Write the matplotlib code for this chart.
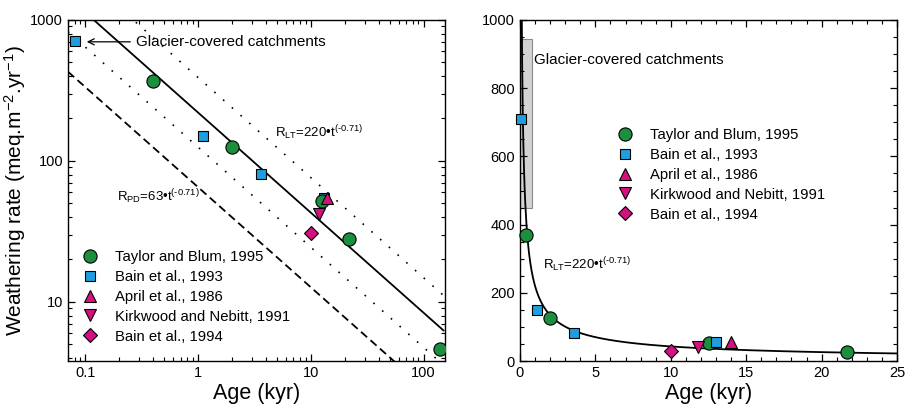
import matplotlib
matplotlib.use('Agg')
import matplotlib.pyplot as plt
import numpy as np
from matplotlib.ticker import MultipleLocator, LogLocator, FuncFormatter, NullFormatter

plt.rcParams['font.family'] = ['Liberation Sans', 'DejaVu Sans']
plt.rcParams['mathtext.fontset'] = 'custom'
plt.rcParams['mathtext.rm'] = 'Liberation Sans'
plt.rcParams['mathtext.it'] = 'Liberation Sans:italic'
plt.rcParams['mathtext.bf'] = 'Liberation Sans:bold'
plt.rcParams['mathtext.default'] = 'regular'

# data (age in kyr, rate in meq m-2 yr-1)
taylor_age = [0.4, 2.0, 12.5, 21.7, 140.0]
taylor_rate = [370, 125, 52, 28, 4.6]
bain93_age = [0.08, 1.1, 3.6, 13.0]
bain93_rate = [710, 150, 81, 55]
april_age = [14.0]
april_rate = [55]
kirk_age = [11.8]
kirk_rate = [42]
bain94_age = [10.0]
bain94_rate = [31]

# power law fits R = a * t^b
exponent = -0.71
lt_coef = 220
upper_coef = 390
lower_coef = 125
pd_coef = 65

# glacier-covered range (right panel box)
glacier_age = [0.0, 0.8]
glacier_rate = [450, 945]

green = '#1c8f3e'
blue = '#1e9ee0'
magenta = '#d5107f'

series = [
    ('Taylor and Blum, 1995', taylor_age, taylor_rate, 'o', green, 9.5),
    ('Bain et al., 1993', bain93_age, bain93_rate, 's', blue, 7.5),
    ('April et al., 1986', april_age, april_rate, '^', magenta, 8.5),
    ('Kirkwood and Nebitt, 1991', kirk_age, kirk_rate, 'v', magenta, 8.5),
    ('Bain et al., 1994', bain94_age, bain94_rate, 'D', magenta, 7.5),
]

exp_txt = '$^{(\u2010' + '0.71)}$'

fig = plt.figure(figsize=(9.07, 4.08), dpi=100)
ax1 = fig.add_axes([0.075, 0.115, 0.4157, 0.836])
ax2 = fig.add_axes([0.5733, 0.115, 0.4157, 0.836])

# ---- left panel: log-log ----
t = np.logspace(np.log10(0.07), np.log10(150), 300)
ax1.plot(t, lt_coef * t ** exponent, color='black', lw=1.3, zorder=2)
ax1.plot(t, upper_coef * t ** exponent, color='black', lw=1.2, ls=(0, (1, 6)), zorder=2)
ax1.plot(t, lower_coef * t ** exponent, color='black', lw=1.2, ls=(0, (1, 6)), zorder=2)
ax1.plot(t, pd_coef * t ** exponent, color='black', lw=1.3, ls=(0, (4.5, 2.5)), zorder=2)

zl = {'o': 4, 's': 3, '^': 5, 'v': 5, 'D': 5}
for label, x, y, m, c, ms in series:
    ax1.plot(x, y, ls='none', marker=m, color=c, mec='black', mew=0.8,
             ms=ms, label=label, zorder=zl[m])

ax1.set_xscale('log')
ax1.set_yscale('log')
ax1.set_xlim(0.07, 155)
ax1.set_ylim(3.8, 1000)
fmt = FuncFormatter(lambda v, p: '%g' % v)
ax1.xaxis.set_major_formatter(fmt)
ax1.yaxis.set_major_formatter(fmt)
ax1.xaxis.set_minor_formatter(NullFormatter())
ax1.yaxis.set_minor_formatter(NullFormatter())
ax1.xaxis.set_minor_locator(LogLocator(base=10, subs=np.arange(2, 10)))
ax1.yaxis.set_minor_locator(LogLocator(base=10, subs=np.arange(2, 10)))

ax1.annotate('Glacier-covered catchments', xy=(0.097, 700), xytext=(0.28, 700),
             fontsize=11, va='center', ha='left',
             arrowprops=dict(arrowstyle='->', color='black', lw=0.9))
ax1.text(4.8, 160, 'R$_{LT}$=220•t' + exp_txt, fontsize=9.5, va='center')
ax1.text(0.19, 56, 'R$_{PD}$=63•t' + exp_txt, fontsize=9.5, va='center')

ax1.legend(loc='lower left', bbox_to_anchor=(0.01, 0.025), frameon=False,
           fontsize=10.7, handlelength=1.2, handletextpad=1.1, labelspacing=0.4,
           borderaxespad=0.2)

ax1.set_xlabel('Age (kyr)', fontsize=15.5, labelpad=2)
ax1.set_ylabel(r'Weathering rate (meq.m$^{-2}$.yr$^{-1}$)', fontsize=15, labelpad=2)

# ---- right panel: linear ----
ax2.add_patch(plt.Rectangle((glacier_age[0], glacier_rate[0]),
                            glacier_age[1] - glacier_age[0],
                            glacier_rate[1] - glacier_rate[0],
                            facecolor='#d3d3d3', edgecolor='#8a8a8a', lw=0.8, zorder=1))
t2 = np.linspace(0.1, 25, 600)
ax2.plot(t2, lt_coef * t2 ** exponent, color='black', lw=1.3, zorder=2)

zr = {'o': 3, 's': 4, '^': 5, 'v': 5, 'D': 5}
for label, x, y, m, c, ms in series:
    ax2.plot(x, y, ls='none', marker=m, color=c, mec='black', mew=0.8,
             ms=ms, label=label, zorder=zr[m], clip_on=False)

ax2.set_xlim(0, 25)
ax2.set_ylim(0, 1000)
ax2.xaxis.set_major_locator(MultipleLocator(5))
ax2.xaxis.set_minor_locator(MultipleLocator(1))
ax2.yaxis.set_major_locator(MultipleLocator(200))
ax2.yaxis.set_minor_locator(MultipleLocator(50))

ax2.text(0.9, 883, 'Glacier-covered catchments', fontsize=11, va='center')
ax2.text(1.5, 282, 'R$_{LT}$=220•t' + exp_txt, fontsize=9.5, va='center')

ax2.legend(loc='upper left', bbox_to_anchor=(0.23, 0.71), frameon=False,
           fontsize=10.7, handlelength=1.2, handletextpad=1.1, labelspacing=0.4,
           borderaxespad=0.2)
ax2.set_xlabel('Age (kyr)', fontsize=15.5, labelpad=2)

for ax in (ax1, ax2):
    ax.tick_params(which='both', direction='in', top=True, right=True, labelsize=10.5)
    ax.tick_params(which='major', length=5, width=0.9)
    ax.tick_params(which='minor', length=2.8, width=0.8)
    for s in ax.spines.values():
        s.set_linewidth(1.0)

plt.savefig('out.png', dpi=100)
